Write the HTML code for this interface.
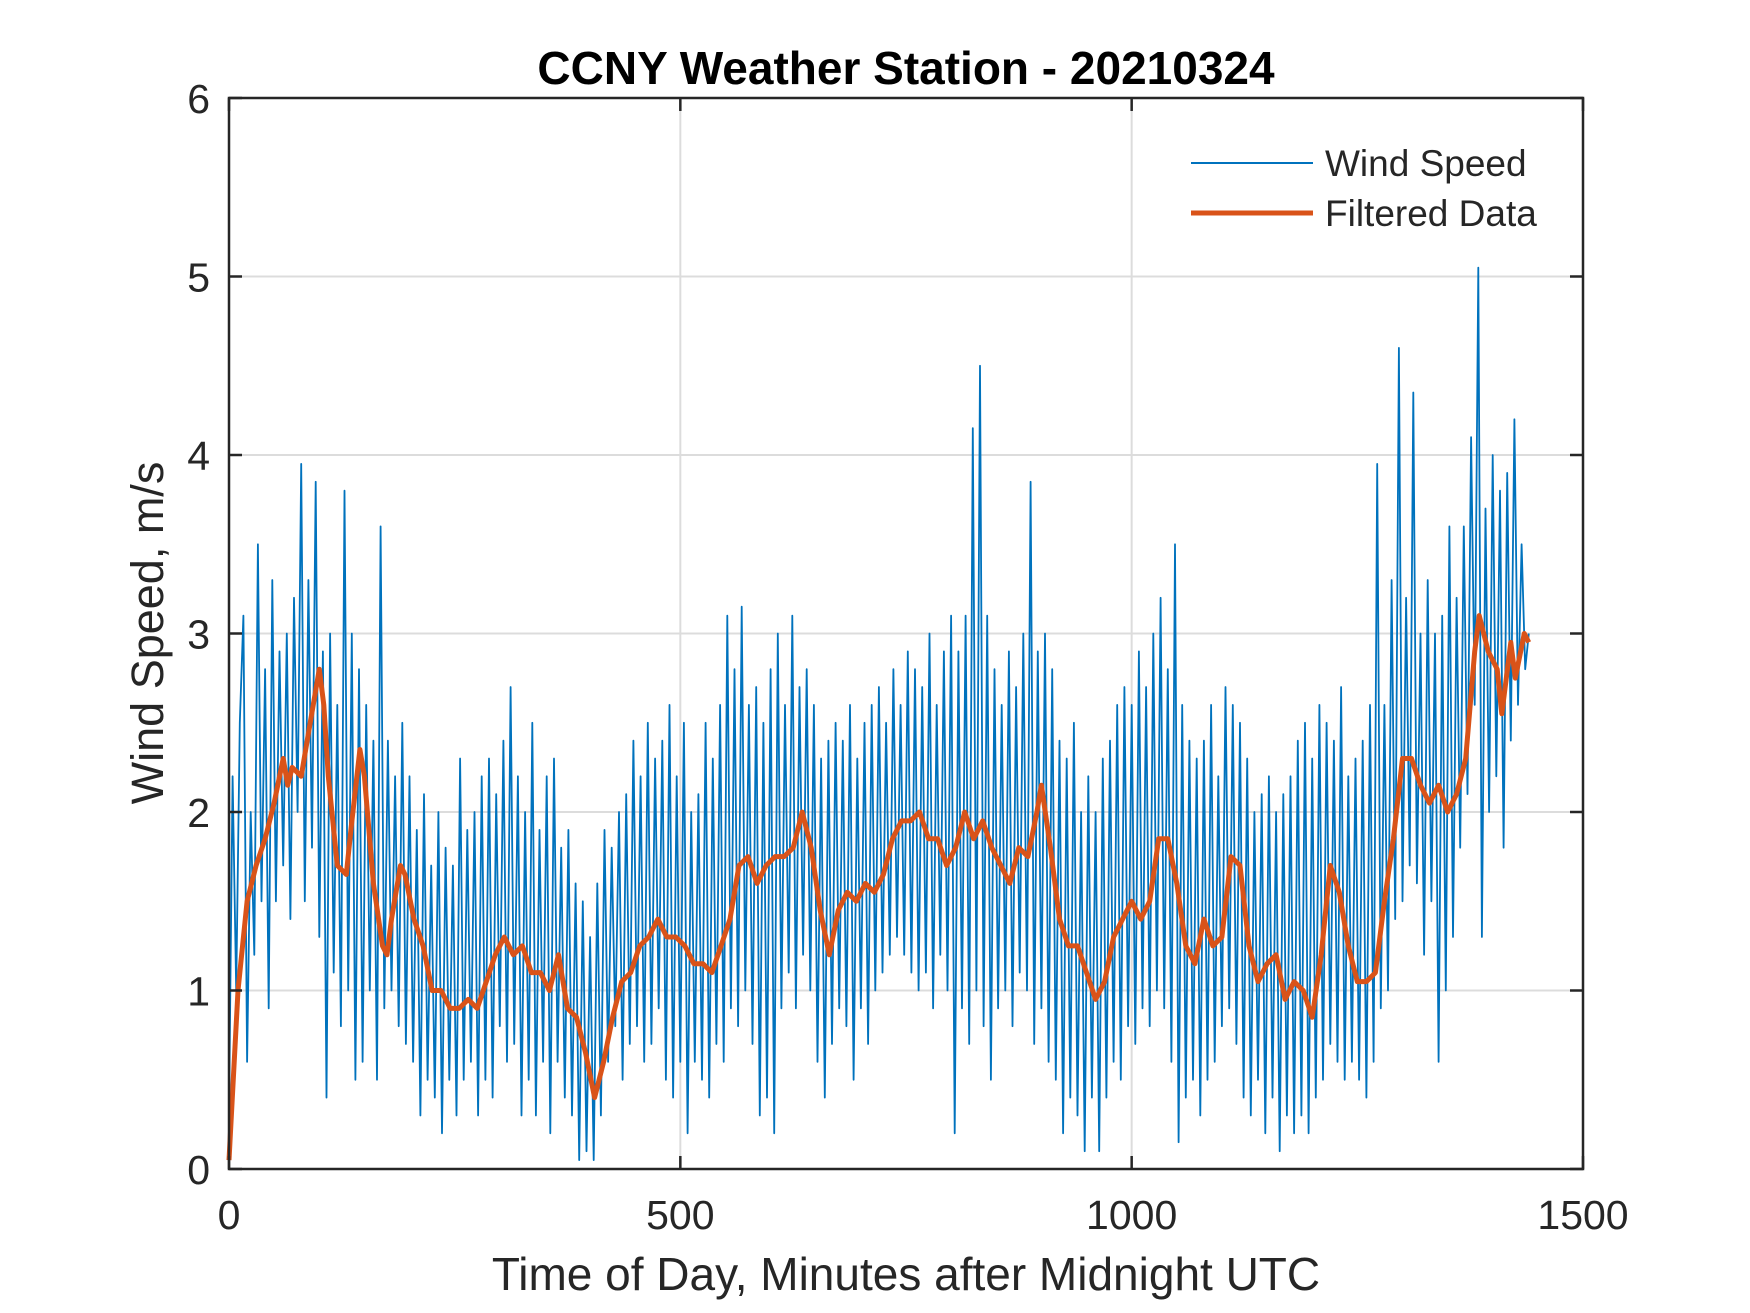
<!DOCTYPE html>
<html><head><meta charset="utf-8">
<style>
html,body{margin:0;padding:0;background:#fff;}
svg{display:block;}
text{font-family:"Liberation Sans",Arial,sans-serif;fill:#262626;}
</style></head>
<body>
<svg id="chart" width="1750" height="1313" viewBox="0 0 1750 1313" xmlns="http://www.w3.org/2000/svg">
<rect width="1750" height="1313" fill="#fff"/>
<g id="grid"></g>
<g id="series"></g>
<g id="axes"></g>
<text x="906" y="84" text-anchor="middle" font-size="46" font-weight="bold" style="fill:#000">CCNY Weather Station - 20210324</text>
<text x="906" y="1290" text-anchor="middle" font-size="46">Time of Day, Minutes after Midnight UTC</text>
<text transform="translate(163,633) rotate(-90)" text-anchor="middle" font-size="45">Wind Speed, m/s</text>
<g>
<line x1="1191" y1="163" x2="1313" y2="163" stroke="#0072BD" stroke-width="2"/>
<text x="1325" y="176" font-size="37">Wind Speed</text>
<line x1="1191" y1="213" x2="1313" y2="213" stroke="#D95319" stroke-width="5"/>
<text x="1325" y="226" font-size="37">Filtered Data</text>
</g>
</svg>
<script>
const xTicks = [0, 500, 1000, 1500];
const yTicks = [0, 1, 2, 3, 4, 5, 6];
const rawStep = 4;
const rawValues = [
0.3,2.2,1.0,2.5,3.1,0.6,2.0,1.2,3.5,1.5,
2.8,0.9,3.3,1.5,2.9,1.7,3.0,1.4,3.2,2.0,
3.95,1.5,3.3,1.8,3.85,1.3,2.9,0.4,3.0,1.1,
2.6,0.8,3.8,1.0,3.0,0.5,2.8,0.6,2.6,1.0,
2.4,0.5,3.6,0.9,2.4,1.0,2.2,0.8,2.5,0.7,
2.2,0.6,1.9,0.3,2.1,0.5,1.7,0.4,2.0,0.2,
1.8,0.5,1.7,0.3,2.3,0.5,1.9,0.6,2.0,0.3,
2.2,0.5,2.3,0.4,2.1,0.8,2.4,0.6,2.7,0.7,
2.2,0.3,2.0,0.5,2.5,0.3,1.9,0.6,2.2,0.2,
2.3,0.6,1.8,0.4,1.9,0.3,1.6,0.05,1.5,0.1,
1.3,0.05,1.6,0.3,1.9,0.6,1.8,0.8,2.0,0.5,
2.1,0.7,2.4,0.8,2.2,0.6,2.5,0.7,2.3,0.9,
2.4,0.5,2.6,0.4,2.2,0.6,2.5,0.2,2.0,0.6,
2.1,0.5,2.5,0.4,2.3,0.7,2.6,0.6,3.1,0.9,
2.8,0.8,3.15,1.0,2.6,0.7,2.7,0.3,2.5,0.4,
2.8,0.2,3.0,0.9,2.6,1.1,3.1,0.9,2.7,1.2,
2.8,1.0,2.6,0.6,2.3,0.4,2.4,0.7,2.5,0.9,
2.4,0.8,2.6,0.5,2.3,0.9,2.5,0.7,2.6,1.0,
2.7,1.1,2.5,1.2,2.8,1.3,2.6,1.2,2.9,1.1,
2.8,1.0,2.7,1.1,3.0,0.9,2.6,1.2,2.9,1.0,
3.1,0.2,2.9,0.9,3.1,0.7,4.15,1.0,4.5,0.8,
3.1,0.5,2.8,0.9,2.6,1.0,2.9,0.8,2.7,1.1,
3.0,1.0,3.85,0.7,2.9,0.9,3.0,0.6,2.8,0.5,
2.4,0.2,2.3,0.4,2.5,0.3,2.0,0.1,2.2,0.4,
2.0,0.1,2.3,0.4,2.4,0.6,2.6,0.5,2.7,0.8,
2.6,0.7,2.9,0.9,2.7,0.8,3.0,1.0,3.2,0.9,
2.8,0.6,3.5,0.15,2.6,0.4,2.4,0.5,2.3,0.3,
2.4,0.5,2.6,0.6,2.2,0.8,2.7,0.9,2.6,0.7,
2.5,0.4,2.3,0.3,2.0,0.5,2.1,0.2,2.2,0.4,
2.0,0.1,2.1,0.3,2.2,0.2,2.4,0.3,2.5,0.2,
2.3,0.4,2.6,0.5,2.5,0.7,2.4,0.6,2.7,0.5,
2.2,0.6,2.3,0.5,2.4,0.4,2.6,0.6,3.95,0.9,
2.6,1.0,3.3,1.4,4.6,1.5,3.2,1.7,4.35,1.6,
3.0,1.2,3.3,1.5,3.0,0.6,3.1,1.0,3.6,1.3,
3.2,1.8,3.6,2.1,4.1,2.6,5.05,1.3,3.7,2.0,
4.0,2.2,3.8,1.8,3.9,2.4,4.2,2.6,3.5,2.8,
3.0];
const filtTimes = [0,10,20,30,40,50,60,65,70,80,90,100,105,110,120,130,135,145,150,160,170,175,180,190,195,205,215,225,235,245,255,265,275,285,295,305,315,325,335,345,355,360,365,375,385,395,405,415,425,435,445,455,465,475,485,495,505,515,525,535,545,555,565,575,585,595,605,615,625,635,645,655,665,675,685,695,705,715,725,735,745,755,765,775,785,795,805,815,825,835,845,855,865,875,885,895,900,910,920,930,940,950,960,970,980,990,1000,1010,1020,1030,1040,1050,1060,1070,1080,1090,1100,1110,1120,1130,1140,1150,1160,1170,1180,1190,1200,1210,1220,1230,1240,1250,1260,1270,1280,1290,1300,1310,1320,1330,1340,1350,1360,1370,1380,1385,1395,1405,1410,1420,1425,1435,1440];
const filtValues = [0.05,1.0,1.5,1.7,1.85,2.05,2.3,2.15,2.25,2.2,2.5,2.8,2.6,2.2,1.7,1.65,1.9,2.35,2.2,1.6,1.25,1.2,1.4,1.7,1.65,1.4,1.25,1.0,1.0,0.9,0.9,0.95,0.9,1.05,1.2,1.3,1.2,1.25,1.1,1.1,1.0,1.1,1.2,0.9,0.85,0.65,0.4,0.6,0.85,1.05,1.1,1.25,1.3,1.4,1.3,1.3,1.25,1.15,1.15,1.1,1.25,1.4,1.7,1.75,1.6,1.7,1.75,1.75,1.8,2.0,1.8,1.45,1.2,1.45,1.55,1.5,1.6,1.55,1.65,1.85,1.95,1.95,2.0,1.85,1.85,1.7,1.8,2.0,1.85,1.95,1.8,1.7,1.6,1.8,1.75,2.0,2.15,1.8,1.4,1.25,1.25,1.1,0.95,1.05,1.3,1.4,1.5,1.4,1.5,1.85,1.85,1.6,1.25,1.15,1.4,1.25,1.3,1.75,1.7,1.25,1.05,1.15,1.2,0.95,1.05,1.0,0.85,1.2,1.7,1.55,1.25,1.05,1.05,1.1,1.5,1.85,2.3,2.3,2.15,2.05,2.15,2.0,2.1,2.3,2.9,3.1,2.9,2.8,2.55,2.95,2.75,3.0,2.95];

const L=229,R=1583,T=98,B=1169;
const xMin=0,xMax=1500,yMin=0,yMax=6;
function xs(v){return L+(v-xMin)/(xMax-xMin)*(R-L);}
function ys(v){return B-(v-yMin)/(yMax-yMin)*(B-T);}
const NS="http://www.w3.org/2000/svg";
function mk(tag,parent,attrs){const e=document.createElementNS(NS,tag);for(const k in attrs)e.setAttribute(k,attrs[k]);parent.appendChild(e);return e;}
const grid=document.getElementById('grid'),series=document.getElementById('series'),axes=document.getElementById('axes');

xTicks.forEach(t=>{
  const g=mk('line',grid,{x1:xs(t),x2:xs(t),y1:T,y2:B,stroke:'#dcdcdc','stroke-width':2});
  
  
  const tk=mk('line',axes,{x1:xs(t),x2:xs(t),y1:B,y2:B-13,stroke:'#262626','stroke-width':2.5});
  
  
  const tk2=mk('line',axes,{x1:xs(t),x2:xs(t),y1:T,y2:T+13,stroke:'#262626','stroke-width':2.5});
  
  
  const lb=mk('text',axes,{x:xs(t),y:1229,'text-anchor':'middle','font-size':41});
  lb.textContent=String(t);
  
  
});
yTicks.forEach(t=>{
  const g=mk('line',grid,{x1:L,x2:R,y1:ys(t),y2:ys(t),stroke:'#dcdcdc','stroke-width':2});
  
  
  const tk=mk('line',axes,{x1:L,x2:L+13,y1:ys(t),y2:ys(t),stroke:'#262626','stroke-width':2.5});
  
  
  const tk2=mk('line',axes,{x1:R,x2:R-13,y1:ys(t),y2:ys(t),stroke:'#262626','stroke-width':2.5});
  
  
  const lb=mk('text',axes,{x:210,y:ys(t)+15,'text-anchor':'end','font-size':41});
  lb.textContent=String(t);
  
  
});
const box=mk('rect',axes,{x:L,y:T,width:R-L,height:B-T,fill:'none',stroke:'#262626','stroke-width':2.5});



const rawPts=rawValues.map((v,i)=>xs(i*rawStep).toFixed(1)+','+ys(v).toFixed(1)).join(' ');
const raw=mk('polyline',series,{points:rawPts,fill:'none',stroke:'#0072BD','stroke-width':1.8,'stroke-linejoin':'round'});


const fPts=filtValues.map((v,i)=>xs(filtTimes[i]).toFixed(1)+','+ys(v).toFixed(1)).join(' ');
const filt=mk('polyline',series,{points:fPts,fill:'none',stroke:'#D95319','stroke-width':5,'stroke-linejoin':'round'});


</script>
</body></html>
